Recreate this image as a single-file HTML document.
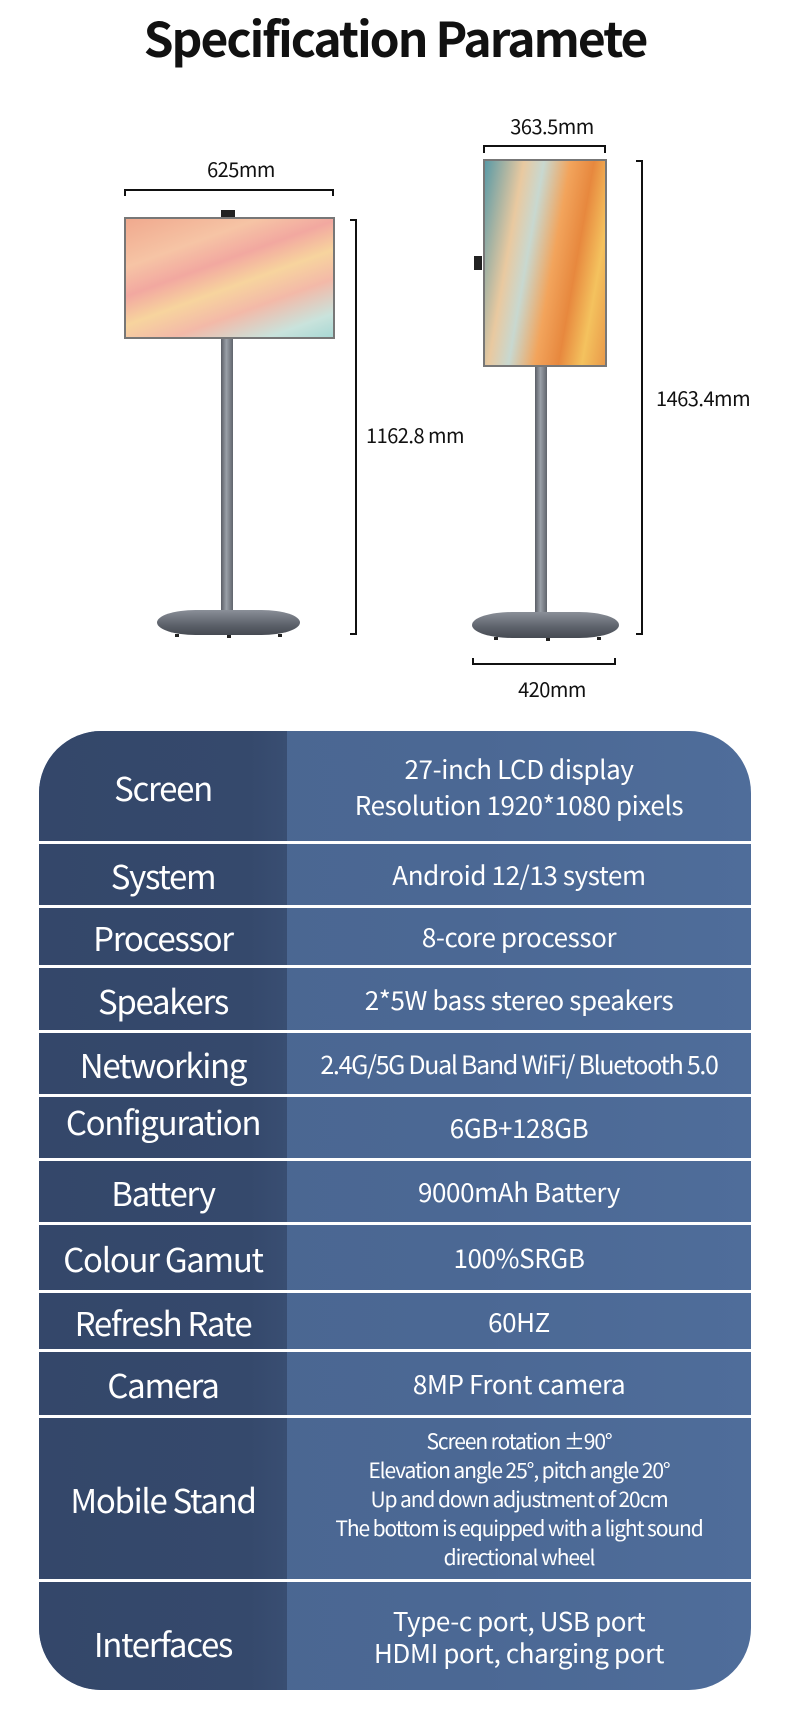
<!DOCTYPE html>
<html><head><meta charset="utf-8"><style>
*{margin:0;padding:0;box-sizing:border-box}
body{width:790px;height:1712px;background:#fff;position:relative;overflow:hidden;font-family:"Noto Sans CJK SC","Liberation Sans",sans-serif}
.a{position:absolute}
.t{position:absolute;white-space:nowrap;color:#111;font-size:20px;line-height:20px;letter-spacing:-0.5px}
#tbl{position:absolute;left:39px;top:731px;width:712px;height:959px;border-radius:62px;overflow:hidden;background:linear-gradient(90deg,#4a6590,#4b6894 60%,#4f6d9a)}
#lc{position:absolute;left:0;top:0;width:248px;height:100%;background:linear-gradient(90deg,#34476a,#35496c 85%,#394e72)}
.sep{position:absolute;left:0;width:100%;height:3px;background:#fff}
.row{position:absolute;left:0;width:100%;display:flex;align-items:center;color:#fff}
.row .k{width:248px;text-align:center;font-size:33px;letter-spacing:-1.3px}
.row .v{flex:1;text-align:center;font-size:26px;line-height:36px;letter-spacing:-0.4px}
.sm{font-size:21px!important;line-height:29px!important;letter-spacing:-1.1px!important}
</style></head><body>
<div class="t" style="left:0;width:790px;text-align:center;top:6px;font-size:48px;line-height:60px;font-weight:bold;letter-spacing:-2px">Specification Paramete</div>

<!-- left TV -->
<div class="t" style="left:191px;width:100px;text-align:center;top:159px">625mm</div>
<div class="a" style="left:124px;top:189px;width:210px;height:7px;border:2px solid #111;border-bottom:none"></div>
<div class="a" style="left:221px;top:210px;width:14px;height:8px;background:#222"></div>
<div class="a" style="left:124px;top:217px;width:211px;height:122px;background:#777;padding:2px">
<div style="width:100%;height:100%;background:linear-gradient(160deg,#f0a98e 0%,#f6c4a5 25%,#f2a8a0 40%,#f7d49e 55%,#f3b9a8 70%,#c9e3dc 88%,#a9d8d4 100%)"></div></div>
<div class="a" style="left:221px;top:339px;width:12px;height:276px;background:linear-gradient(90deg,#5a5e66,#9aa0a8 45%,#60646c)"></div>
<div class="a" style="left:157px;top:610px;width:143px;height:25px;border-radius:40px/13px;background:linear-gradient(180deg,#8a8f98,#5c616a 60%,#464a52)"></div>
<div class="a" style="left:175px;top:634px;width:4px;height:3px;background:#222"></div>
<div class="a" style="left:227px;top:635px;width:4px;height:3px;background:#222"></div>
<div class="a" style="left:278px;top:634px;width:4px;height:3px;background:#222"></div>
<div class="a" style="left:350px;top:219px;width:7px;height:416px;border:2px solid #111;border-left:none"></div>
<div class="t" style="left:366px;top:425px">1162.8 mm</div>

<!-- right TV -->
<div class="t" style="left:502px;width:100px;text-align:center;top:116px">363.5mm</div>
<div class="a" style="left:483px;top:145px;width:123px;height:8px;border:2px solid #111;border-bottom:none"></div>
<div class="a" style="left:474px;top:256px;width:8px;height:14px;background:#222"></div>
<div class="a" style="left:483px;top:159px;width:124px;height:208px;background:#777;padding:2px">
<div style="width:100%;height:100%;background:linear-gradient(100deg,#5a9aa6 0%,#e9c9a0 25%,#c8d8d0 38%,#f2a45c 55%,#e7883e 70%,#f4c25e 85%,#e99a4a 100%)"></div></div>
<div class="a" style="left:535px;top:367px;width:12px;height:250px;background:linear-gradient(90deg,#5a5e66,#9aa0a8 45%,#60646c)"></div>
<div class="a" style="left:472px;top:612px;width:147px;height:26px;border-radius:40px/13px;background:linear-gradient(180deg,#8a8f98,#5c616a 60%,#464a52)"></div>
<div class="a" style="left:494px;top:637px;width:4px;height:3px;background:#222"></div>
<div class="a" style="left:546px;top:638px;width:4px;height:3px;background:#222"></div>
<div class="a" style="left:597px;top:637px;width:4px;height:3px;background:#222"></div>
<div class="a" style="left:636px;top:160px;width:7px;height:475px;border:2px solid #111;border-left:none"></div>
<div class="t" style="left:656px;top:388px">1463.4mm</div>
<div class="a" style="left:472px;top:658px;width:144px;height:7px;border:2px solid #111;border-top:none"></div>
<div class="t" style="left:502px;width:100px;text-align:center;top:679px">420mm</div>

<div id="tbl">
<div id="lc"></div>
<div class="row" style="top:0;height:111px"><div class="k">Screen</div><div class="v">27-inch LCD display<br>Resolution 1920*1080 pixels</div></div>
<div class="sep" style="top:110px"></div>
<div class="row" style="top:113px;height:62px"><div class="k">System</div><div class="v">Android 12/13 system</div></div>
<div class="sep" style="top:174px"></div>
<div class="row" style="top:177px;height:58px"><div class="k">Processor</div><div class="v">8-core processor</div></div>
<div class="sep" style="top:234px"></div>
<div class="row" style="top:237px;height:63px"><div class="k">Speakers</div><div class="v">2*5W bass stereo speakers</div></div>
<div class="sep" style="top:299px"></div>
<div class="row" style="top:302px;height:62px"><div class="k">Networking</div><div class="v" style="font-size:25px;letter-spacing:-1.3px">2.4G/5G Dual Band WiFi/ Bluetooth 5.0</div></div>
<div class="sep" style="top:363px"></div>
<div class="row" style="top:366px;height:62px"><div class="k" style="margin-top:-14px">Configuration</div><div class="v">6GB+128GB</div></div>
<div class="sep" style="top:427px"></div>
<div class="row" style="top:430px;height:62px"><div class="k">Battery</div><div class="v">9000mAh Battery</div></div>
<div class="sep" style="top:491px"></div>
<div class="row" style="top:494px;height:66px"><div class="k">Colour Gamut</div><div class="v">100%SRGB</div></div>
<div class="sep" style="top:559px"></div>
<div class="row" style="top:562px;height:57px"><div class="k">Refresh Rate</div><div class="v">60HZ</div></div>
<div class="sep" style="top:618px"></div>
<div class="row" style="top:621px;height:64px"><div class="k">Camera</div><div class="v">8MP Front camera</div></div>
<div class="sep" style="top:684px"></div>
<div class="row" style="top:687px;height:162px"><div class="k">Mobile Stand</div><div class="v sm">Screen rotation ±90°<br>Elevation angle 25°, pitch angle 20°<br>Up and down adjustment of 20cm<br><span style="line-height:24px">The bottom is equipped with a light sound<br>directional wheel</span></div></div>
<div class="sep" style="top:848px"></div>
<div class="row" style="top:851px;height:108px"><div class="k" style="margin-top:14px">Interfaces</div><div class="v" style="margin-top:2px;line-height:32px">Type-c port, USB port<br>HDMI port, charging port</div></div>
</div>
</body></html>
